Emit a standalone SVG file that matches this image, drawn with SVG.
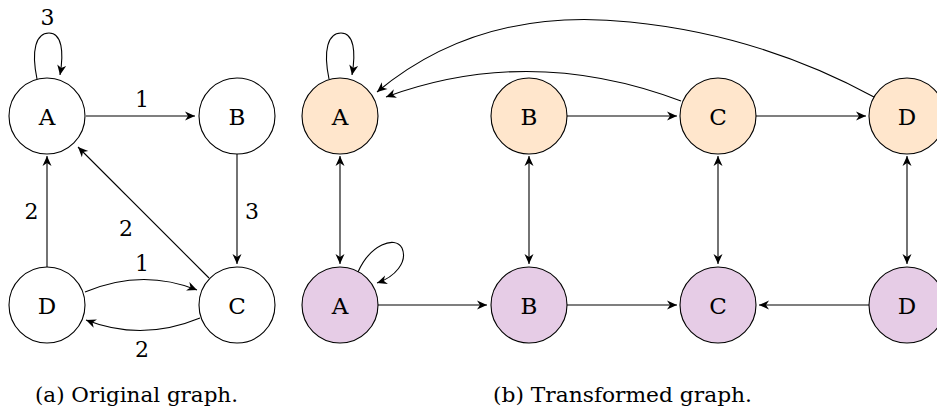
<svg xmlns="http://www.w3.org/2000/svg" width="937" height="410" viewBox="0 0 937 410">
<style>
.n{stroke:#000;stroke-width:1.1}
.w{fill:#fff}
.o{fill:#FFE6CC}
.v{fill:#E6CCE6}
text{font-family:'DejaVu Serif','Liberation Serif',serif;fill:#000}
.t{font-size:23px;text-anchor:middle}
.l{font-size:22px;text-anchor:middle}
.c{font-size:21px}
.e{fill:none;stroke:#000;stroke-width:1.1;marker-end:url(#arr)}
.d{fill:none;stroke:#000;stroke-width:1.1;marker-start:url(#arr);marker-end:url(#arr)}
</style>
<defs>
<marker id="arr" viewBox="-11 -6 12 12" refX="0" refY="0" markerWidth="12" markerHeight="12" markerUnits="userSpaceOnUse" orient="auto-start-reverse">
<path d="M0,0 L-10,-4.5 L-7,0 L-10,4.5 z" fill="#000"/>
</marker>
</defs>
<rect width="937" height="410" fill="#fff"/>
<g id="connectors">
<path class="e" d="M37,79 C31,50 36,33 49,33 C62,33 64,52 60,75"/>
<path class="e" d="M86,116 L195,116"/>
<path class="e" d="M237,154 L237,264"/>
<path class="e" d="M47,267 L47,156"/>
<path class="e" d="M209,278 L78,147"/>
<path class="e" d="M85,292 Q142,268 197,290"/>
<path class="e" d="M200,318 Q142,342 86,320"/>
<path class="e" d="M329,79 C323,50 328,33 341,33 C354,33 356,52 352,75"/>
<path class="e" d="M681,101 Q530,44 386,97"/>
<path class="e" d="M874,97 Q760,35 630,22 Q480,6 377,92"/>
<path class="e" d="M567,116 L677,116"/>
<path class="e" d="M756,116 L866,116"/>
<path class="d" d="M340,156 L340,264"/>
<path class="d" d="M529,156 L529,264"/>
<path class="d" d="M718,156 L718,264"/>
<path class="d" d="M907,156 L907,264"/>
<path class="e" d="M358,272 C370,245 395,235 402,248 C408,262 395,277 377,283"/>
<path class="e" d="M378,305 L487,305"/>
<path class="e" d="M567,305 L677,305"/>
<path class="e" d="M869,305 L759,305"/>
</g>
<g id="edge-labels">
<text class="l" x="47.5" y="25">3</text>
<text class="l" x="142" y="107">1</text>
<text class="l" x="252" y="219">3</text>
<text class="l" x="31.5" y="219">2</text>
<text class="l" x="126" y="236">2</text>
<text class="l" x="142" y="271">1</text>
<text class="l" x="142" y="357">2</text>
</g>
<g id="orig-A"><circle class="n w" cx="47" cy="116" r="38"/><text class="t" x="47" y="124.5">A</text></g>
<g id="orig-B"><circle class="n w" cx="237" cy="116" r="38"/><text class="t" x="237" y="124.5">B</text></g>
<g id="orig-C"><circle class="n w" cx="237" cy="305" r="38"/><text class="t" x="237" y="313.5">C</text></g>
<g id="orig-D"><circle class="n w" cx="47" cy="305" r="38"/><text class="t" x="47" y="313.5">D</text></g>
<g id="top-A"><circle class="n o" cx="340" cy="116" r="38"/><text class="t" x="340" y="124.5">A</text></g>
<g id="top-B"><circle class="n o" cx="529" cy="116" r="38"/><text class="t" x="529" y="124.5">B</text></g>
<g id="top-C"><circle class="n o" cx="718" cy="116" r="38"/><text class="t" x="718" y="124.5">C</text></g>
<g id="top-D"><circle class="n o" cx="907" cy="116" r="38"/><text class="t" x="907" y="124.5">D</text></g>
<g id="bot-A"><circle class="n v" cx="340" cy="305" r="38"/><text class="t" x="340" y="313.5">A</text></g>
<g id="bot-B"><circle class="n v" cx="529" cy="305" r="38"/><text class="t" x="529" y="313.5">B</text></g>
<g id="bot-C"><circle class="n v" cx="718" cy="305" r="38"/><text class="t" x="718" y="313.5">C</text></g>
<g id="bot-D"><circle class="n v" cx="907" cy="305" r="38"/><text class="t" x="907" y="313.5">D</text></g>
<g id="captions">
<text class="c" x="35" y="402" textLength="203" lengthAdjust="spacingAndGlyphs">(a) Original graph.</text>
<text class="c" x="493" y="402" textLength="259" lengthAdjust="spacingAndGlyphs">(b) Transformed graph.</text>
</g>
</svg>
